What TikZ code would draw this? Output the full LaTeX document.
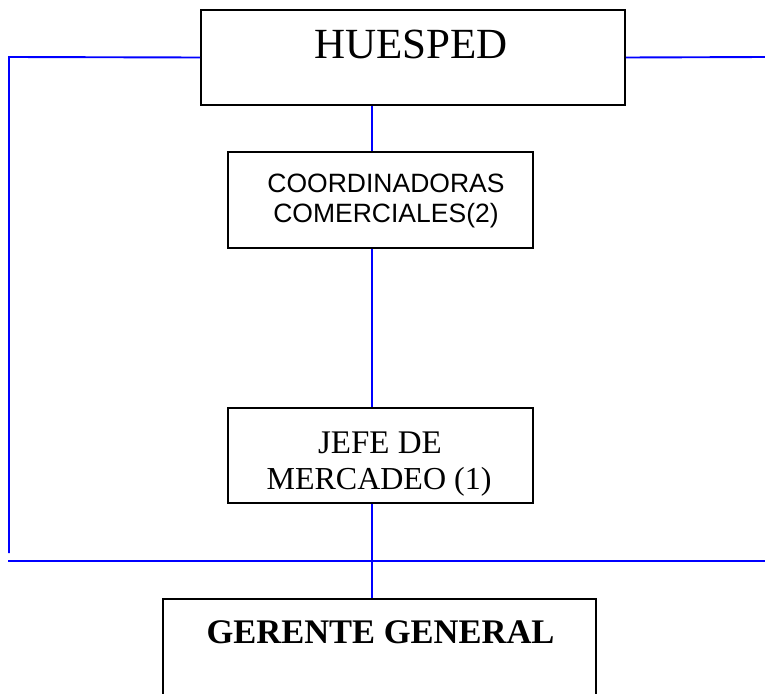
\documentclass[tikz,border=0pt]{standalone}
\usepackage{fontspec}
\setmainfont{Liberation Serif}
\newfontfamily\arialfont{Liberation Sans}
\begin{document}
\begin{tikzpicture}[x=1pt,y=-1pt,
  box/.style={draw=black, line width=1.8pt, fill=white, inner sep=0pt},
  link/.style={draw=blue, line width=1.9pt},
  lbl/.style={inner sep=0pt, anchor=base, align=center}]
\useasboundingbox (0,0) rectangle (765,693);
\clip (0,0) rectangle (765,693);
\fill[white] (0,0) rectangle (765,693);

% vertical spine of the chart
\coordinate (spine) at (372,0);

% boxes
\node[box, minimum width=424pt, minimum height=95pt] (hue) at (413,57.5) {};
\node[box, minimum width=305pt, minimum height=96pt] (coord) at (380.5,200) {};
\node[box, minimum width=305pt, minimum height=95pt] (jefe) at (380.5,455.5) {};
\node[box, minimum width=433pt, minimum height=200pt] (ger) at (379.5,699) {};

% connectors
\coordinate (lefttop) at (9,57);
\coordinate (leftend) at (9,553);
\coordinate (righttop) at (766,57);
\coordinate (barL) at (8,561);
\coordinate (barR) at (766,561);
\draw[link] (hue.west) -- (lefttop) -- (leftend);
\draw[link] (hue.east) -- (righttop);
\draw[link] (hue.south -| spine) -- (coord.north -| spine);
\draw[link] (coord.south -| spine) -- (jefe.north -| spine);
\draw[link] (jefe.south -| spine) -- (ger.north -| spine);
\draw[link] (barL) -- (barR);

% texts
\node[lbl, font=\fontsize{43}{48}\selectfont] (tHue) at (411,59) {HUESPED};
\node[lbl, font=\arialfont\fontsize{26.5}{30}\selectfont] (tCo1) at (386,192) {COORDINADORAS};
\node[lbl, font=\arialfont\fontsize{26.5}{30}\selectfont] (tCo2) at (386,222) {COMERCIALES(2)};
\node[lbl, font=\fontsize{33}{36}\selectfont] (tJe1) at (380,453) {JEFE DE};
\node[lbl, font=\fontsize{32}{36}\selectfont] (tJe2) at (379,489) {MERCADEO (1)};
\node[lbl, font=\bfseries\fontsize{34.5}{38}\selectfont] (tGe) at (380.5,643) {GERENTE GENERAL};
\end{tikzpicture}
\end{document}
